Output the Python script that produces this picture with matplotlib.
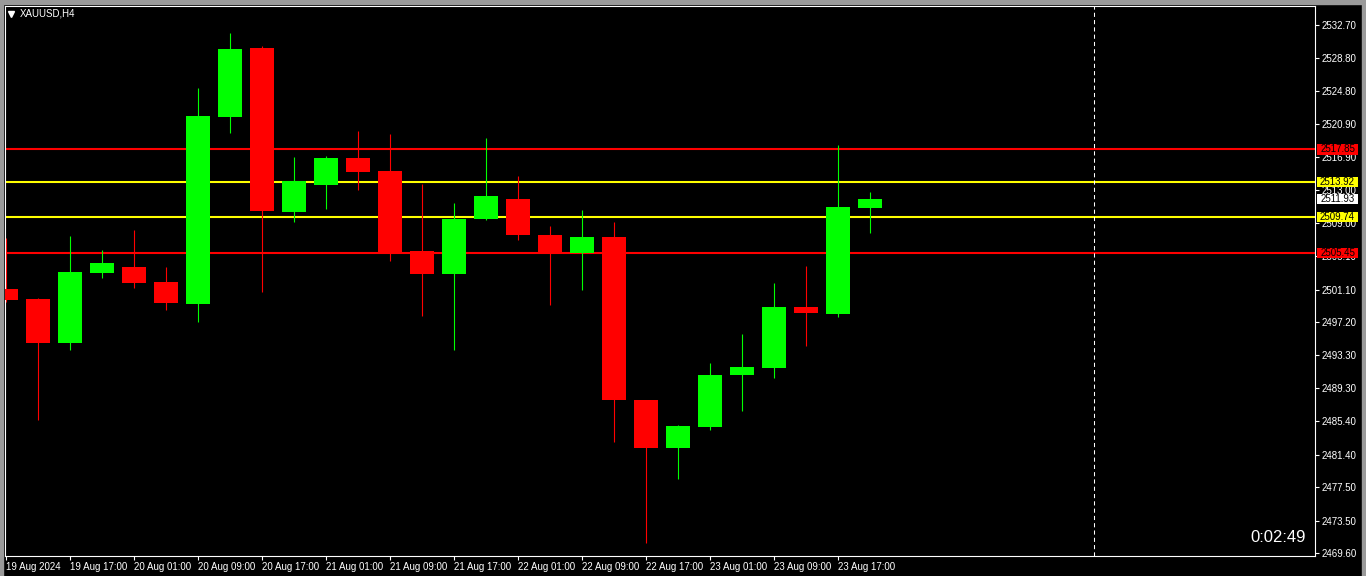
#!/usr/bin/env python3
"""
XAUUSD H4 candles, MT4 style, with support/resistance lines
"""

import matplotlib
matplotlib.use('Agg')
import matplotlib.pyplot as plt
from matplotlib.lines import Line2D
from matplotlib.patches import Rectangle
from matplotlib.transforms import blended_transform_factory

plt.rcParams['font.family'] = ['Liberation Sans', 'DejaVu Sans']

# OHLC, first bar = 19 Aug 09:00, one bar per 4 hours
opens = [2501.17, 2499.97, 2494.72, 2503.11, 2503.80, 2502.00, 2499.38, 2521.71,
         2529.95, 2510.36, 2513.59, 2516.81, 2515.26, 2505.71, 2502.96, 2509.53,
         2511.92, 2507.62, 2505.47, 2507.38, 2487.91, 2482.18, 2484.68, 2490.90,
         2491.73, 2499.02, 2498.18, 2510.84]
highs = [2507.26, 2500.09, 2507.50, 2505.83, 2508.21, 2503.80, 2525.18, 2531.74,
         2530.19, 2516.93, 2517.05, 2520.04, 2519.68, 2513.71, 2511.44, 2519.20,
         2514.66, 2508.69, 2510.60, 2509.17, 2487.91, 2484.92, 2492.33, 2495.79,
         2501.88, 2503.92, 2518.37, 2512.75]
lows = [2499.61, 2485.52, 2493.88, 2502.52, 2501.32, 2498.70, 2497.23, 2519.84,
        2500.85, 2509.17, 2510.72, 2512.99, 2504.51, 2497.94, 2493.88, 2509.41,
        2507.02, 2499.26, 2501.05, 2482.89, 2470.83, 2478.47, 2484.33, 2486.60,
        2490.54, 2494.36, 2497.82, 2507.86]
closes = [2499.85, 2494.72, 2503.20, 2504.27, 2501.92, 2499.53, 2521.83, 2529.83,
          2510.48, 2514.07, 2516.81, 2515.14, 2505.59, 2502.96, 2509.53, 2512.28,
          2507.62, 2505.47, 2507.38, 2487.91, 2482.18, 2484.80, 2490.90, 2491.85,
          2499.02, 2498.30, 2510.96, 2511.93]

time_labels = ['19 Aug 2024', '19 Aug 17:00', '20 Aug 01:00', '20 Aug 09:00',
               '20 Aug 17:00', '21 Aug 01:00', '21 Aug 09:00', '21 Aug 17:00',
               '22 Aug 01:00', '22 Aug 09:00', '22 Aug 17:00', '23 Aug 01:00',
               '23 Aug 09:00', '23 Aug 17:00']
price_ticks = [2532.70, 2528.80, 2524.80, 2520.90, 2516.90, 2513.00, 2509.00,
               2505.10, 2501.10, 2497.20, 2493.30, 2489.30, 2485.40, 2481.40,
               2477.50, 2473.50, 2469.60]

# horizontal levels (price, colour)
levels = [(2517.85, '#ff0000'), (2513.92, '#ffff00'),
          (2509.74, '#ffff00'), (2505.45, '#ff0000')]
bid = closes[-1]
separator_bar = 34
timer = '0:02:49'

W, H = 1366, 576
fig = plt.figure(figsize=(W / 100, H / 100), dpi=100, facecolor='black')
# plot area in pixels: x 5..1315, y 6..556
ax = fig.add_axes([5 / W, 1 - 556 / H, 1310 / W, 550 / H], facecolor='black')

# outer window frame
for r in [(0, 0, 3 / W, 1), (0, 1 - 4 / H, 1, 4 / H), (1 - 4 / W, 0, 4 / W, 1)]:
    fig.patches.append(Rectangle(r[:2], r[2], r[3], transform=fig.transFigure,
                                 color='#9a9a9a', zorder=0))

# levels behind the candles
for price, col in levels:
    ax.axhline(price, color=col, lw=1.5, zorder=1)

ax.axvline(separator_bar, color='white', lw=0.75, ls=(0, (4, 3)), zorder=1)

xs = list(range(len(opens)))
colors = ['#00ff00' if c >= o else '#ff0000' for o, c in zip(opens, closes)]
ax.vlines(xs, lows, highs, colors=colors, lw=0.8, zorder=2)
bottoms = [min(o, c) for o, c in zip(opens, closes)]
heights = [abs(c - o) for o, c in zip(opens, closes)]
ax.bar(xs, heights, bottom=bottoms, width=0.78, color=colors, linewidth=0, zorder=3)

ax.set_xlim(-1 / 32, 1309 / 32)
ax.set_ylim(2469.28, 2534.97)

for s in ax.spines.values():
    s.set_color('white')
    s.set_linewidth(0.8)

ax.yaxis.tick_right()
ax.set_yticks(price_ticks)
ax.set_yticklabels([f'{p:.2f}' for p in price_ticks])
ax.set_xticks(list(range(0, 2 * len(time_labels), 2)))
ax.set_xticklabels(time_labels)
plt.setp(ax.get_xticklabels(), ha='left')
ax.tick_params(colors='white', labelsize=7, length=3, width=0.8, direction='out')
ax.tick_params(axis='y', pad=1.5)
ax.tick_params(axis='x', pad=1.5)

# price boxes on the right scale (about 41 x 10 px)
tr = blended_transform_factory(ax.transAxes, ax.transData)
box_x0 = (1317 - 5) / 1310
box_w = 41 / 1310
box_h = 10.5 * (2534.97 - 2469.28) / 550
for price, col in levels + [(bid, 'white')]:
    ax.add_patch(Rectangle((box_x0, price - box_h / 2), box_w, box_h, transform=tr,
                           fc=col, ec='none', clip_on=False, zorder=9))
    ax.text(box_x0 + box_w / 2, price, f'{price:.2f}', transform=tr, ha='center',
            va='center', fontsize=7, color='black', clip_on=False, zorder=10)

# symbol caption and countdown
fig.add_artist(Line2D([11 / W], [1 - 14 / H], marker='v', ms=4.5, color='white',
                      transform=fig.transFigure))
fig.text(20 / W, 1 - 14 / H, 'XAUUSD,H4', color='white', fontsize=7, va='center')
fig.text(1306 / W, 1 - 537 / H, timer, color='white', fontsize=12,
         ha='right', va='center')

fig.savefig('out.png', dpi=100, facecolor='black')
plt.close(fig)
